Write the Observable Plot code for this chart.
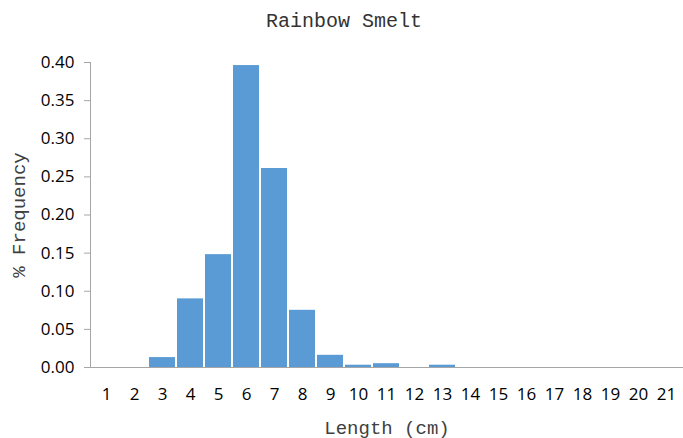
<!DOCTYPE html>
<html>
<head>
<meta charset="utf-8">
<script src="https://cdn.jsdelivr.net/npm/d3@7"></script>
<script src="https://cdn.jsdelivr.net/npm/@observablehq/plot@0.6"></script>
<style>
  html, body { margin: 0; padding: 0; background: #fff; }
  #wrap { width: 683px; height: 438px; overflow: hidden; }
  #title { height: 40px; line-height: 44px; text-align: center; font-family: "Liberation Mono", "DejaVu Sans Mono", monospace; font-size: 20px; color: #333; padding-left: 5px; box-sizing: border-box; }
  svg g[aria-label="x-axis label"] text, svg g[aria-label="y-axis label"] text { font-family: "Liberation Mono", "DejaVu Sans Mono", monospace; font-size: 19px; fill: #404040; }
</style>
</head>
<body>
<div id="wrap">
  <div id="title">Rainbow Smelt</div>
  <div id="chart"></div>
</div>
<script>
const lengths = [1,2,3,4,5,6,7,8,9,10,11,12,13,14,15,16,17,18,19,20,21];
const freq = [0,0,0.013,0.090,0.148,0.396,0.261,0.075,0.016,0.003,0.005,0,0.003,0,0,0,0,0,0,0,0];
const yTicks = [0,0.05,0.10,0.15,0.20,0.25,0.30,0.35,0.40];

const data = lengths.map((l, i) => ({len: l, freq: freq[i]}));

const chart = Plot.plot({
  width: 683,
  height: 398,
  marginTop: 22,
  marginBottom: 71,
  marginLeft: 90,
  marginRight: 0,
  style: { fontFamily: "'Open Sans', sans-serif", fontSize: "17px", color: "#000", background: "#fff" },
  x: { type: "band", domain: lengths, padding: 0.07 },
  y: { domain: [0, 0.4] },
  marks: [
    Plot.barY(data, { x: "len", y: "freq", fill: "#5B9BD5" }),
    Plot.axisX({ tickSize: 0, tickPadding: 20, label: "Length (cm)", labelAnchor: "center", labelOffset: 66, labelArrow: "none" }),
    Plot.axisY({ ticks: yTicks, tickFormat: d3.format(".2f"), tickSize: 6, tickPadding: 10, stroke: "#a6a6a6", label: "% Frequency", labelAnchor: "center", labelOffset: 79, labelArrow: "none" }),
    Plot.frame({ anchor: "left", stroke: "#a6a6a6" }),
    Plot.ruleY([0], { stroke: "#a6a6a6" })
  ]
});
document.getElementById("chart").appendChild(chart);
</script>
</body>
</html>
